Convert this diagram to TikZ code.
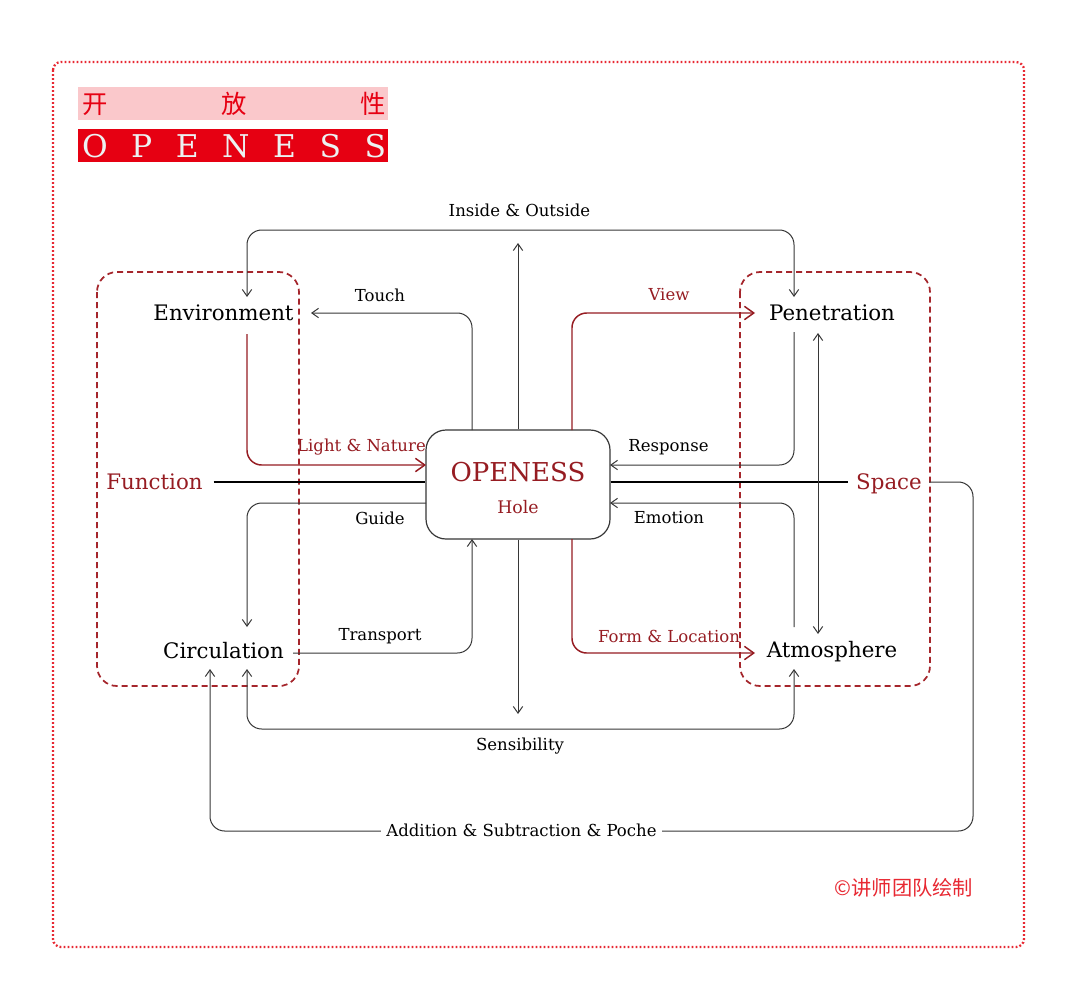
\documentclass[tikz,border=0pt]{standalone}
\usepackage{fontspec}
\setmainfont{DejaVu Serif}
\newfontfamily\cjk{Noto Sans CJK SC}
\usetikzlibrary{arrows.meta}
\definecolor{dred}{RGB}{150,28,34}
\definecolor{bred}{RGB}{230,0,18}
\definecolor{pinkbg}{RGB}{250,200,203}
\definecolor{dotred}{RGB}{232,40,50}
\definecolor{boxred}{RGB}{165,38,44}
\definecolor{lnk}{RGB}{55,55,55}
\definecolor{paleletter}{RGB}{236,242,242}
\begin{document}
\begin{tikzpicture}[x=0.75pt,y=-0.75pt,
  big/.style={font=\fontsize{16}{19}\selectfont,text=black,inner sep=0pt},
  bigred/.style={font=\fontsize{16}{19}\selectfont,text=dred,inner sep=0pt},
  lbl/.style={font=\fontsize{12.4}{14}\selectfont,text=black,inner sep=0pt},
  lblred/.style={font=\fontsize{12.4}{14}\selectfont,text=dred,inner sep=0pt},
  link/.style={draw=lnk,line width=0.75pt,rounded corners=11pt,>={Straight Barb[length=5pt,width=7pt]}},
  redlink/.style={draw=dred,line width=1.1pt,rounded corners=11pt,>={Straight Barb[length=7pt,width=10pt]}},
  group/.style={draw=boxred,line width=1.3pt,dash pattern=on 4.5pt off 3pt,rounded corners=15pt},
  axis/.style={draw=black,line width=2pt}]
\useasboundingbox (0,0) rectangle (1080,1003);
\fill[white] (0,0) rectangle (1080,1003);
% outer frame
\draw[dotred,line width=1.7pt,dash pattern=on 1.4pt off 1.6pt,rounded corners=6pt] (53,62) rectangle (1024,947);
% title bands
\fill[pinkbg] (78,87) rectangle (388,120);
\node (cntitle) at (234,103.5) {\cjk\fontsize{19}{19}\selectfont\color{bred}\makebox[227pt][s]{开\hfill 放\hfill 性}};
\fill[bred] (78,129) rectangle (388,162);
\node (entitle) at (234,146) {\fontsize{23.5}{23.5}\selectfont\color{paleletter}\makebox[228pt][s]{O\hfill P\hfill E\hfill N\hfill E\hfill S\hfill S}};
% group boxes
\draw[group] (97,272) rectangle (299,686);
\draw[group] (740,272) rectangle (930,686);
% central node
\node[draw=lnk,line width=0.9pt,rounded corners=15pt,minimum width=138pt,minimum height=81.75pt,fill=white] (hole) at (518,484.5) {};
\node[font=\fontsize{19.5}{22}\selectfont,text=dred,inner sep=0pt] (holetitle) at (518,472) {OPENESS};
\node[font=\fontsize{13}{15}\selectfont,text=dred,inner sep=0pt] (holesub) at (518,507) {Hole};
% main nodes
\node[big] (env) at (223.5,313) {Environment};
\node[big] (pen) at (832,313) {Penetration};
\node[big] (circ) at (223.5,651) {Circulation};
\node[big] (atm) at (832,651.5) {Atmosphere};
\node[bigred] (func) at (154.5,482) {Function};
\node[bigred] (space) at (889,484) {Space};
% axis lines
\draw[axis] (func.east) ++(8pt,0) coordinate (funcE) -- (hole.west |- funcE);
\coordinate (spaceW) at (848,482);
\draw[axis] (hole.east |- spaceW) -- (spaceW);
% coordinates
\coordinate (envT) at (247,297);
\coordinate (penT) at (794,297);
\coordinate (upT) at (518,243);
\coordinate (downT) at (518,714);
\coordinate (touchS) at (472,430);
\coordinate (touchE) at (311,313);
\coordinate (viewS) at (572,430);
\coordinate (viewE) at (755,313);
\coordinate (lightS) at (247,334);
\coordinate (lightE) at (426,465);
\coordinate (respS) at (794,332);
\coordinate (respE) at (610,465);
\coordinate (guideS) at (426,503);
\coordinate (guideE) at (247,627);
\coordinate (emoS) at (794,627);
\coordinate (emoE) at (610,503);
\coordinate (transS) at (293,653);
\coordinate (transE) at (472,539);
\coordinate (formS) at (572,539);
\coordinate (formE) at (755,653);
\coordinate (patT) at (818,333);
\coordinate (patB) at (818,634);
\coordinate (sensL) at (247,669);
\coordinate (sensR) at (794,669);
\coordinate (addE) at (210,669);
\coordinate (addS) at (929,482);
% connectors
\draw[link,<->] (envT) -- (247,230) -- (794,230) -- (penT);
\draw[link,->] (hole.north) -- (upT);
\draw[link,->] (hole.south) -- (downT);
\draw[link,->] (touchS) |- (touchE);
\draw[redlink,->] (viewS) |- (viewE);
\draw[redlink,->] (lightS) |- (lightE);
\draw[link,->] (respS) |- (respE);
\draw[link,->] (guideS) -| (guideE);
\draw[link,->] (emoS) |- (emoE);
\draw[link,->] (transS) -| (transE);
\draw[redlink,->] (formS) |- (formE);
\draw[link,<->] (patT) -- (patB);
\draw[link,<->] (sensL) -- (247,729) -- (794,729) -- (sensR);
\draw[link,->] (addS) -- (973,482) -- (973,831) -- (210,831) -- (addE);
% labels
\node[lbl] (lio) at (519.5,210) {Inside \& Outside};
\node[lbl] (ltouch) at (380,295) {Touch};
\node[lblred] (lview) at (669,295) {View};
\node[lblred] (llight) at (361.5,447) {Light \& Nature};
\node[lbl] (lresp) at (668.5,447) {Response};
\node[lbl] (lguide) at (380,518) {Guide};
\node[lbl] (lemo) at (669,518) {Emotion};
\node[lbl] (ltrans) at (380,636) {Transport};
\node[lblred] (lform) at (669,636) {Form \& Location};
\node[lbl] (lsens) at (520,746) {Sensibility};
\node[lbl,fill=white,inner xsep=4pt,inner ysep=2pt] (ladd) at (521.5,830) {Addition \& Subtraction \& Poche};
\node[font=\cjk\fontsize{15.2}{16}\selectfont,text=dotred,inner sep=0pt] (copy) at (904,888) {©讲师团队绘制};
\end{tikzpicture}
\end{document}
